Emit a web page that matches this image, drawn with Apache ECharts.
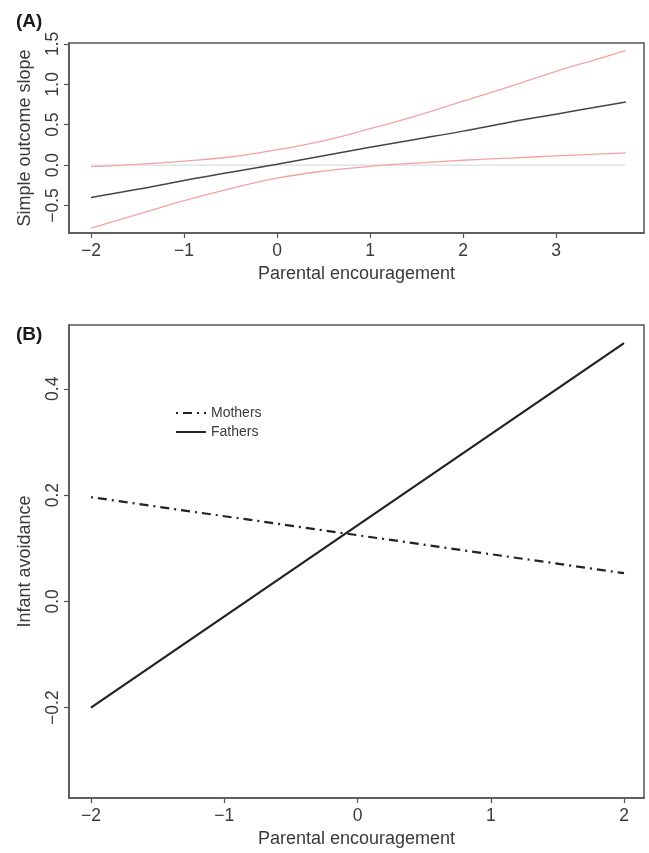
<!DOCTYPE html>
<html>
<head>
<meta charset="utf-8">
<script src="https://cdn.jsdelivr.net/npm/echarts@6/dist/echarts.min.js"></script>
<style>
html,body{margin:0;padding:0;background:#fff;}
#chart{width:649px;height:853px;}
</style>
</head>
<body>
<div id="chart"></div>
<script>
// Panel A: simple outcome slope vs parental encouragement
const xA = [-2, -1.5, -1, -0.5, 0, 0.5, 1, 1.5, 2, 2.5, 3, 3.5, 3.75];
const slopeA = [-0.40, -0.30, -0.19, -0.09, 0.01, 0.115, 0.22, 0.32, 0.42, 0.53, 0.63, 0.73, 0.78];
const upperA = [-0.02, 0.01, 0.05, 0.10, 0.19, 0.30, 0.45, 0.61, 0.79, 0.97, 1.16, 1.33, 1.42];
const lowerA = [-0.78, -0.61, -0.44, -0.29, -0.16, -0.075, -0.015, 0.025, 0.06, 0.087, 0.113, 0.138, 0.15];
const zeroA = [0, 0];
const zeroX = [-2, 3.75];
const xTicksA = [-2, -1, 0, 1, 2, 3];
const yTicksA = [-0.5, 0, 0.5, 1.0, 1.5];

// Panel B: infant avoidance vs parental encouragement
const xB = [-2, 2];
const mothersB = [0.196, 0.053];
const fathersB = [-0.20, 0.486];
const xTicksB = [-2, -1, 0, 1, 2];
const yTicksB = [-0.2, 0, 0.2, 0.4];

const FONT = 'Liberation Sans, Arial, Helvetica, sans-serif';
const TXT = '#3a3a3a';
const BOX = '#555';

function pairs(xs, ys) { return xs.map((x, i) => [x, ys[i]]); }
function fmtX(v) { return String(v).replace('-', '\u2212'); }
function fmtY(v) { return v.toFixed(1).replace('-', '\u2212'); }

function xAxisCfg(idx, min, max, ticks) {
  return {
    type: 'value', gridIndex: idx, min: min, max: max,
    name: 'Parental encouragement', nameLocation: 'middle', nameGap: 32,
    nameTextStyle: {fontFamily: FONT, fontSize: 18, color: TXT},
    axisLine: {show: true, onZero: false, lineStyle: {color: BOX, width: 1.5}},
    axisTick: {show: true, inside: false, length: 5, customValues: ticks, lineStyle: {color: BOX, width: 1.2}},
    axisLabel: {customValues: ticks, formatter: fmtX, margin: 9, fontFamily: FONT, fontSize: 17.5, color: TXT},
    splitLine: {show: false}
  };
}
function yAxisCfg(idx, min, max, ticks, name) {
  return {
    type: 'value', gridIndex: idx, min: min, max: max,
    name: name, nameLocation: 'middle', nameGap: 35, nameRotate: 90,
    nameTextStyle: {fontFamily: FONT, fontSize: 18, color: TXT},
    axisLine: {show: true, onZero: false, lineStyle: {color: BOX, width: 1.5}},
    axisTick: {show: true, inside: false, length: 5, customValues: ticks, lineStyle: {color: BOX, width: 1.2}},
    axisLabel: {customValues: ticks, formatter: fmtY, rotate: 90, margin: 7, fontFamily: FONT, fontSize: 17.5, color: TXT},
    splitLine: {show: false}
  };
}

const chart = echarts.init(document.getElementById('chart'), null, {renderer: 'canvas'});
chart.setOption({
  backgroundColor: '#ffffff',
  animation: false,
  grid: [
    {left: 69, top: 43, width: 575, height: 190, show: true, borderColor: BOX, borderWidth: 1.5, backgroundColor: 'transparent'},
    {left: 69, top: 325, width: 575, height: 476, show: true, borderColor: BOX, borderWidth: 1.5, backgroundColor: 'transparent'}
  ],
  xAxis: [
    xAxisCfg(0, -2.237, 3.946, xTicksA),
    xAxisCfg(1, -2.165, 2.15, xTicksB)
  ],
  yAxis: [
    yAxisCfg(0, -0.84, 1.51, yTicksA, 'Simple outcome slope'),
    yAxisCfg(1, -0.37, 0.52, yTicksB, 'Infant avoidance')
  ],
  legend: {
    data: ['Mothers', 'Fathers'],
    orient: 'vertical', left: 170, top: 401,
    itemWidth: 30, itemHeight: 14, itemGap: 5,
    itemStyle: {opacity: 0},
    textStyle: {fontFamily: FONT, fontSize: 14, color: TXT},
    selectedMode: false
  },
  graphic: [
    {type: 'text', left: 16, top: 12, style: {text: '(A)', font: 'bold 19px ' + FONT, fill: '#1a1a1a'}},
    {type: 'text', left: 16, top: 325, style: {text: '(B)', font: 'bold 19px ' + FONT, fill: '#1a1a1a'}}
  ],
  series: [
    {name: 'zero', type: 'line', xAxisIndex: 0, yAxisIndex: 0, data: pairs(zeroX, zeroA), symbol: 'none',
     lineStyle: {color: '#dcdcdc', width: 1.2}, silent: true},
    {name: 'upper', type: 'line', xAxisIndex: 0, yAxisIndex: 0, data: pairs(xA, upperA), symbol: 'none', smooth: 0.4,
     lineStyle: {color: '#f4a3a3', width: 1.3}, silent: true},
    {name: 'lower', type: 'line', xAxisIndex: 0, yAxisIndex: 0, data: pairs(xA, lowerA), symbol: 'none', smooth: 0.4,
     lineStyle: {color: '#f4a3a3', width: 1.3}, silent: true},
    {name: 'slope', type: 'line', xAxisIndex: 0, yAxisIndex: 0, data: pairs(xA, slopeA), symbol: 'none', smooth: 0.4,
     lineStyle: {color: '#454545', width: 1.5}, silent: true},
    {name: 'Mothers', type: 'line', xAxisIndex: 1, yAxisIndex: 1, data: pairs(xB, mothersB), symbol: 'none',
     lineStyle: {color: '#222', width: 2.2, type: [2, 5, 9, 5]}, itemStyle: {color: '#222'}},
    {name: 'Fathers', type: 'line', xAxisIndex: 1, yAxisIndex: 1, data: pairs(xB, fathersB), symbol: 'none',
     lineStyle: {color: '#222', width: 2.2}, itemStyle: {color: '#222'}}
  ]
});
</script>
</body>
</html>
